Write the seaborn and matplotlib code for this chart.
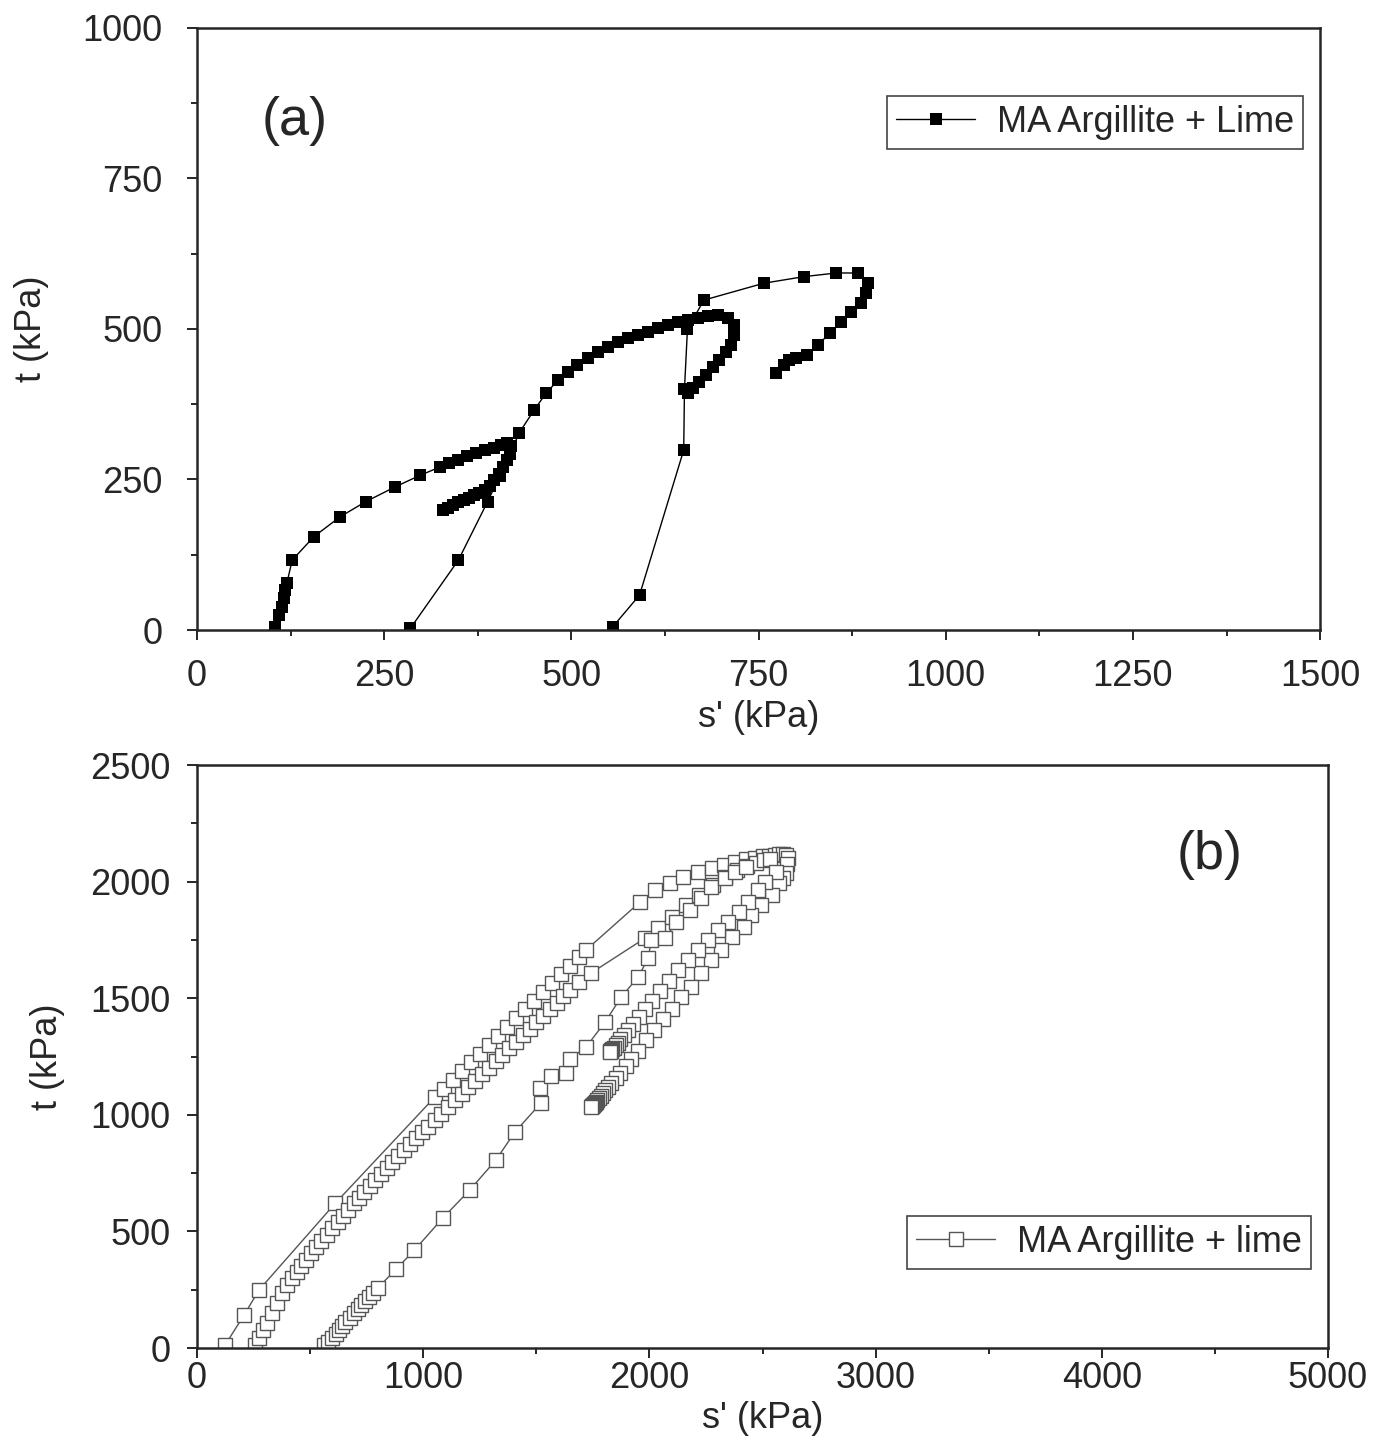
import matplotlib
matplotlib.use("Agg")
import matplotlib.pyplot as plt
import numpy as np
import pandas as pd
import seaborn as sns

# ---- panel (a): MA Argillite + Lime, three stages ----
a1_s = [104, 109, 113, 116, 118, 120, 127, 156, 191, 225, 265, 298, 325, 337, 349, 361, 373, 385, 396, 406, 414, 419,
        418, 414, 409, 403, 397, 391, 384, 377, 370, 363, 356, 349, 342, 335, 329]
a1_t = [5, 25, 38, 53, 66, 78, 116, 155, 188, 213, 238, 257, 271, 277, 283, 289, 294, 299, 303, 307, 310, 306,
        295, 282, 270, 259, 249, 240, 233, 228, 224, 220, 216, 212, 207, 203, 199]

a2_s = [285, 349, 388, 404, 418, 430, 450, 466, 482, 495, 508, 522, 535, 549, 562, 575, 589, 602, 616, 629, 642,
        656, 669, 682, 696, 709, 717, 717, 713, 707, 697, 689, 680, 670, 662, 656]
a2_t = [3, 116, 213, 255, 292, 327, 365, 393, 415, 429, 440, 452, 462, 470, 478, 485, 490, 495, 502, 507, 512,
        515, 518, 522, 523, 518, 507, 490, 473, 462, 449, 437, 424, 412, 402, 394]

a3_s = [555, 591, 650, 651, 655, 677, 757, 811, 854, 883, 896, 894, 887, 874, 860, 845, 829, 814, 800, 791, 784, 773]
a3_t = [5, 58, 299, 400, 500, 548, 576, 587, 593, 593, 576, 560, 543, 529, 512, 493, 473, 457, 452, 448, 440, 427]

# ---- panel (b): MA Argillite + lime ----
b1_s = [124, 208, 274, 612, 1050, 1090, 1130, 1170, 1210, 1250, 1290, 1330, 1370, 1410, 1450, 1490, 1530, 1570,
        1610, 1650, 1690, 1720, 1959, 2026, 2092, 2150, 2216, 2275, 2330, 2380, 2425, 2465, 2500, 2530,
        2555, 2575, 2592, 2605, 2612, 2610, 2602, 2590, 2571, 2540, 2495, 2451, 2416, 2363, 2318, 2274, 2230,
        2185, 2141, 2100, 2060, 2020, 1985, 1950, 1920, 1895, 1870, 1850, 1832, 1818, 1805, 1794, 1784, 1776,
        1769, 1763, 1758, 1754, 1751, 1748, 1746, 1744, 1742]
b1_t = [13, 142, 249, 622, 1075, 1112, 1150, 1188, 1225, 1263, 1301, 1339, 1376, 1414, 1452, 1490, 1527, 1565,
        1603, 1640, 1678, 1707, 1913, 1964, 1994, 2020, 2041, 2058, 2073, 2085, 2095, 2103, 2108, 2112,
        2115, 2117, 2118, 2114, 2100, 2075, 2037, 2015, 1994, 1943, 1900, 1857, 1805, 1762, 1707, 1664, 1608,
        1548, 1505, 1455, 1410, 1365, 1320, 1275, 1240, 1210, 1180, 1157, 1137, 1120, 1105, 1092, 1080, 1071,
        1063, 1056, 1050, 1046, 1043, 1040, 1038, 1036, 1035]

b2_s = [257, 275, 293, 310, 332, 355, 377, 399, 420, 440, 460, 482, 505, 528, 550, 574, 598, 621, 645, 668, 692,
        716, 740, 764, 788, 812, 838, 864, 890, 916, 942, 968, 995, 1022, 1050, 1080, 1110, 1140, 1170, 1200, 1230,
        1260, 1290, 1320, 1350, 1380, 1410, 1440, 1470, 1500, 1530, 1560, 1590, 1620, 1650, 1690, 1742, 1981,
        2040, 2100, 2160, 2220, 2280, 2335, 2385, 2430, 2470, 2505, 2535,
        2558, 2513, 2482, 2438, 2394, 2349, 2305, 2261, 2216, 2172, 2128, 2085, 2045, 2010, 1980, 1952, 1928,
        1905, 1888, 1872, 1860, 1850, 1842, 1836, 1832, 1829, 1827, 1826]
b2_t = [13, 45, 78, 107, 150, 193, 236, 270, 300, 325, 350, 378, 406, 433, 458, 486, 513, 540, 568, 594, 620,
        645, 670, 695, 720, 745, 772, 798, 824, 850, 875, 900, 926, 950, 976, 1005, 1033, 1062, 1090, 1118, 1146,
        1174, 1202, 1230, 1258, 1286, 1314, 1342, 1370, 1397, 1425, 1453, 1481, 1508, 1535, 1570, 1608, 1758,
        1800, 1850, 1898, 1942, 1985, 2020, 2048, 2068, 2082, 2092, 2098,
        2041, 1998, 1964, 1913, 1870, 1827, 1792, 1750, 1707, 1664, 1620, 1575, 1530, 1490, 1452, 1418, 1390,
        1362, 1342, 1325, 1310, 1298, 1288, 1281, 1277, 1274, 1272, 1270]

b3_s = [563, 580, 598, 613, 629, 643, 656, 676, 696, 710, 723, 742, 762, 780, 798, 880, 961, 1086, 1205, 1321,
        1405, 1520, 1516, 1565, 1631, 1649, 1720, 1804, 1875, 1950, 1995, 2008, 2070, 2119, 2181, 2230, 2274,
        2336, 2380, 2425]
b3_t = [13, 28, 43, 60, 77, 94, 111, 130, 150, 167, 184, 201, 219, 238, 257, 338, 420, 557, 677, 806,
        926, 1050, 1115, 1165, 1180, 1240, 1291, 1398, 1505, 1591, 1672, 1750, 1758, 1827, 1878, 1930, 1977,
        2015, 2041, 2063]

sns.set_style("ticks")
plt.rcParams['font.family'] = ['Liberation Sans', 'DejaVu Sans']
plt.rcParams['axes.linewidth'] = 1.8

fig = plt.figure(figsize=(13.8, 14.55), dpi=100)
ax_a = fig.add_axes([0.1428, 0.567, 0.8138, 0.4138])
ax_b = fig.add_axes([0.1428, 0.0735, 0.8195, 0.4007])

# panel (a)
for i, (xs, ys) in enumerate([(a1_s, a1_t), (a2_s, a2_t), (a3_s, a3_t)]):
    df = pd.DataFrame({"s": xs, "t": ys})
    sns.lineplot(data=df, x="s", y="t", sort=False, estimator=None, ax=ax_a,
                 color="black", lw=1.0, marker="s", markersize=8.6, markeredgewidth=0,
                 markerfacecolor="black", label="MA Argillite + Lime" if i == 0 else None)

# panel (b)
for i, (xs, ys) in enumerate([(b1_s, b1_t), (b2_s, b2_t), (b3_s, b3_t)]):
    df = pd.DataFrame({"s": xs, "t": ys})
    sns.lineplot(data=df, x="s", y="t", sort=False, estimator=None, ax=ax_b,
                 color="#555555", lw=1.0, marker="s", markersize=10.2, markeredgewidth=1.0,
                 markerfacecolor="white", markeredgecolor="#555555",
                 label="MA Argillite + lime" if i == 0 else None)

ax_a.set_xlim(0, 1500)
ax_a.set_ylim(0, 1000)
ax_a.set_xticks([0, 250, 500, 750, 1000, 1250, 1500])
ax_a.set_yticks([0, 250, 500, 750, 1000])
ax_a.set_xticks(np.arange(125, 1500, 250), minor=True)
ax_a.set_yticks(np.arange(125, 1000, 250), minor=True)

ax_b.set_xlim(0, 5000)
ax_b.set_ylim(0, 2500)
ax_b.set_xticks([0, 1000, 2000, 3000, 4000, 5000])
ax_b.set_yticks([0, 500, 1000, 1500, 2000, 2500])
ax_b.set_xticks(np.arange(500, 5000, 1000), minor=True)
ax_b.set_yticks(np.arange(250, 2500, 500), minor=True)

for ax, ypad, xpad, lpad in [(ax_a, 18, 14, 24), (ax_b, 12, 2, 18)]:
    for side in ["top", "right", "left", "bottom"]:
        ax.spines[side].set_visible(True)
        ax.spines[side].set_linewidth(1.8)
    ax.tick_params(which="major", direction="out", length=7, width=1.4, labelsize=26)
    ax.tick_params(which="minor", direction="out", length=4, width=1.4)
    ax.tick_params(axis="y", which="major", pad=ypad)
    ax.tick_params(axis="x", which="major", pad=xpad)
    ax.set_xlabel("s' (kPa)", fontsize=26, labelpad=4)
    ax.set_ylabel("t (kPa)", fontsize=26, labelpad=lpad)

ax_a.text(0.087, 0.845, "(a)", transform=ax_a.transAxes, fontsize=39, ha="center", va="center")
ax_b.text(0.895, 0.845, "(b)", transform=ax_b.transAxes, fontsize=39, ha="center", va="center")

leg_a = ax_a.legend(loc="upper right", bbox_to_anchor=(0.985, 0.887), fontsize=26, handlelength=2.2,
                    fancybox=False, framealpha=1, edgecolor="#444444", borderpad=0.25, handletextpad=0.6,
                    borderaxespad=0)
leg_a.get_frame().set_linewidth(1.2)
leg_b = ax_b.legend(loc="upper right", bbox_to_anchor=(0.985, 0.227), fontsize=26, handlelength=2.2,
                    fancybox=False, framealpha=1, edgecolor="#444444", borderpad=0.25, handletextpad=0.6,
                    borderaxespad=0)
leg_b.get_frame().set_linewidth(1.2)

fig.savefig("out.png", dpi=100)
